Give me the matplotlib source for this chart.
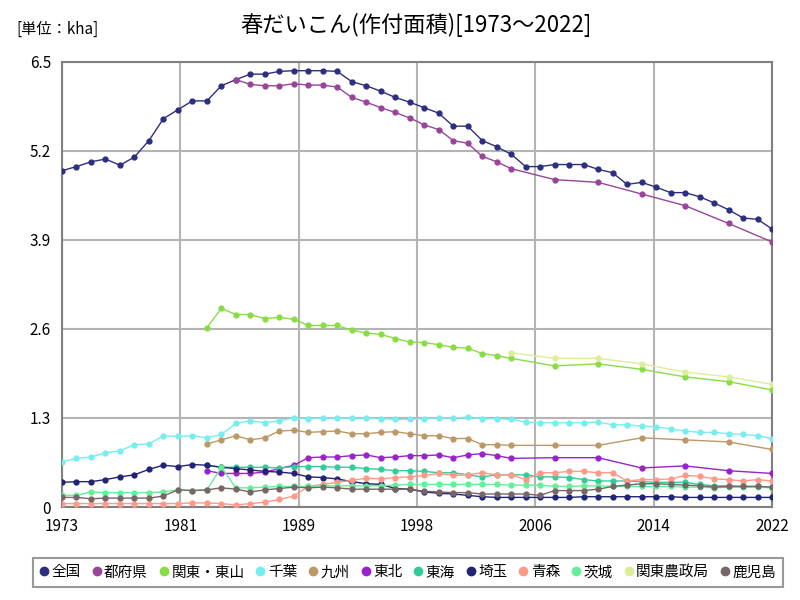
import numpy as np
import matplotlib
matplotlib.use("Agg")
import matplotlib.pyplot as plt
from matplotlib.lines import Line2D

plt.rcParams['font.family'] = ['Noto Sans CJK JP', 'DejaVu Sans']

N = None
years = list(range(1973, 2023))

# 作付面積 (kha), 1973-2022
zenkoku = [4.91, 4.97, 5.04, 5.08, 4.99, 5.11, 5.35, 5.67, 5.80, 5.93,
           5.93, 6.15, 6.24, 6.32, 6.32, 6.36, 6.37, 6.37, 6.37, 6.36,
           6.21, 6.15, 6.07, 5.98, 5.91, 5.83, 5.75, 5.56, 5.56, 5.35,
           5.26, 5.15, 4.97, 4.97, 5.00, 5.00, 5.00, 4.93, 4.88, 4.71,
           4.74, 4.67, 4.59, 4.59, 4.53, 4.44, 4.34, 4.22, 4.20, 4.06]
tofuken = [N, N, N, N, N, N, N, N, N, N,
           N, N, 6.24, 6.17, 6.15, 6.15, 6.18, 6.16, 6.16, 6.13,
           5.98, 5.91, 5.83, 5.76, 5.68, 5.58, 5.51, 5.35, 5.31, 5.12,
           5.04, 4.94, N, N, 4.78, N, N, 4.74, N, N,
           4.57, N, N, 4.40, N, N, 4.14, N, N, 3.87]
kanto_tosan = [N, N, N, N, N, N, N, N, N, N,
               2.62, 2.90, 2.81, 2.81, 2.75, 2.77, 2.74, 2.65, 2.65, 2.65,
               2.58, 2.54, 2.52, 2.46, 2.41, 2.40, 2.37, 2.33, 2.32, 2.24,
               2.21, 2.17, N, N, 2.06, N, N, 2.09, N, N,
               2.01, N, N, 1.90, N, N, 1.83, N, N, 1.71]
chiba = [0.66, 0.71, 0.73, 0.79, 0.82, 0.91, 0.92, 1.04, 1.03, 1.04,
         1.01, 1.06, 1.22, 1.26, 1.23, 1.26, 1.30, 1.29, 1.30, 1.30,
         1.30, 1.30, 1.29, 1.28, 1.28, 1.29, 1.30, 1.30, 1.31, 1.29,
         1.29, 1.28, 1.24, 1.23, 1.23, 1.23, 1.23, 1.24, 1.20, 1.20,
         1.18, 1.17, 1.14, 1.11, 1.09, 1.09, 1.07, 1.06, 1.04, 1.00]
kyushu = [N, N, N, N, N, N, N, N, N, N,
          0.92, 0.98, 1.04, 0.98, 1.01, 1.11, 1.12, 1.09, 1.10, 1.11,
          1.07, 1.07, 1.09, 1.10, 1.07, 1.04, 1.04, 1.00, 1.00, 0.91,
          0.91, 0.90, N, N, 0.90, N, N, 0.90, N, N,
          1.01, N, N, 0.98, N, N, 0.95, N, N, 0.84]
tohoku = [N, N, N, N, N, N, N, N, N, N,
          0.53, 0.49, 0.49, 0.49, 0.51, 0.56, 0.61, 0.72, 0.73, 0.73,
          0.75, 0.76, 0.72, 0.73, 0.75, 0.75, 0.76, 0.72, 0.76, 0.78,
          0.75, 0.71, N, N, 0.72, N, N, 0.72, N, N,
          0.57, N, N, 0.60, N, N, 0.53, N, N, 0.49]
tokai = [N, N, N, N, N, N, N, N, N, N,
         0.61, 0.58, 0.58, 0.58, 0.58, 0.57, 0.59, 0.59, 0.59, 0.58,
         0.58, 0.56, 0.55, 0.53, 0.53, 0.52, 0.50, 0.50, 0.47, 0.44,
         0.47, 0.47, 0.47, 0.44, 0.44, 0.43, 0.40, 0.38, 0.38, 0.38,
         0.37, 0.36, 0.36, 0.36, 0.33, 0.31, 0.31, 0.30, 0.30, 0.29]
saitama = [0.36, 0.37, 0.37, 0.40, 0.44, 0.47, 0.55, 0.61, 0.59, 0.62,
           0.61, 0.58, 0.56, 0.54, 0.52, 0.51, 0.49, 0.44, 0.43, 0.41,
           0.37, 0.34, 0.33, 0.27, 0.26, 0.22, 0.20, 0.19, 0.17, 0.15,
           0.14, 0.14, 0.14, 0.14, 0.14, 0.14, 0.15, 0.15, 0.15, 0.15,
           0.15, 0.15, 0.15, 0.14, 0.14, 0.14, 0.14, 0.14, 0.14, 0.14]
aomori = [0.05, 0.05, 0.05, 0.05, 0.05, 0.05, 0.05, 0.05, 0.05, 0.06,
          0.06, 0.05, 0.03, 0.05, 0.07, 0.11, 0.16, 0.30, 0.33, 0.36,
          0.39, 0.42, 0.41, 0.43, 0.44, 0.46, 0.49, 0.46, 0.47, 0.50,
          0.47, 0.47, 0.40, 0.50, 0.50, 0.52, 0.52, 0.50, 0.50, 0.38,
          0.40, 0.40, 0.41, 0.46, 0.45, 0.41, 0.40, 0.38, 0.40, 0.38]
ibaraki = [0.17, 0.17, 0.22, 0.21, 0.21, 0.21, 0.21, 0.22, 0.25, 0.24,
           0.25, 0.58, 0.28, 0.28, 0.29, 0.30, 0.30, 0.30, 0.31, 0.31,
           0.31, 0.31, 0.31, 0.32, 0.33, 0.33, 0.33, 0.33, 0.33, 0.33,
           0.33, 0.32, 0.32, 0.32, 0.30, 0.30, 0.31, 0.31, 0.30, 0.30,
           0.30, 0.30, 0.30, 0.29, 0.29, 0.28, 0.29, 0.29, 0.29, 0.28]
kanto_nosei = [N, N, N, N, N, N, N, N, N, N,
               N, N, N, N, N, N, N, N, N, N,
               N, N, N, N, N, N, N, N, N, N,
               N, 2.25, N, N, 2.17, N, N, 2.17, N, N,
               2.09, N, N, 1.97, N, N, 1.90, N, N, 1.79]
kagoshima = [0.14, 0.14, 0.12, 0.13, 0.13, 0.13, 0.13, 0.16, 0.25, 0.24,
             0.25, 0.28, 0.26, 0.22, 0.25, 0.27, 0.29, 0.28, 0.29, 0.28,
             0.26, 0.26, 0.26, 0.26, 0.26, 0.23, 0.22, 0.21, 0.21, 0.19,
             0.19, 0.19, 0.19, 0.17, 0.24, 0.24, 0.24, 0.26, 0.30, 0.32,
             0.34, 0.34, 0.33, 0.32, 0.31, 0.29, 0.30, 0.30, 0.30, 0.29]

names = ['全国', '都府県', '関東・東山', '千葉', '九州', '東北', '東海',
         '埼玉', '青森', '茨城', '関東農政局', '鹿児島']
series = [zenkoku, tofuken, kanto_tosan, chiba, kyushu, tohoku, tokai,
          saitama, aomori, ibaraki, kanto_nosei, kagoshima]
colors = ['#2e2e80', '#994499', '#88dd44', '#77eeee', '#bb9966', '#9922cc',
          '#33cc99', '#222277', '#ff9988', '#66ee99', '#ddee99', '#776666']

fig = plt.figure(figsize=(8, 6), dpi=100)
ax = fig.add_axes([0.0775, 0.155, 0.8875, 0.742])

x = np.array(years)
for vals, c in zip(series, colors):
    y = np.array([np.nan if v is None else v for v in vals], dtype=float)
    ok = ~np.isnan(y)
    ax.plot(x[ok], y[ok], color=c, lw=1.0, marker='o', ms=3.5, mec=c, zorder=3)

ax.set_xlim(1973, 2022)
ax.set_ylim(0, 6.5)
xt = np.linspace(1973, 2022, 7)
ax.set_xticks(xt)
ax.set_xticklabels([str(int(round(v))) for v in xt], fontsize=11)
yt = [0, 1.3, 2.6, 3.9, 5.2, 6.5]
ax.set_yticks(yt)
ax.set_yticklabels(['0', '1.3', '2.6', '3.9', '5.2', '6.5'], fontsize=11)
ax.tick_params(axis='x', length=0, pad=8)
ax.tick_params(axis='y', length=0, pad=8)
ax.grid(True, color='#b4b4b4', lw=1.5, zorder=0)
ax.set_axisbelow(True)
for s in ax.spines.values():
    s.set_color('#808080')
    s.set_linewidth(1.5)

fig.text(0.52, 0.958, '春だいこん(作付面積)[1973～2022]', ha='center', va='center', fontsize=16)
fig.text(0.02, 0.952, '[単位：kha]', ha='left', va='center', fontsize=11)

handles = [Line2D([], [], ls='none', marker='o', ms=6, color=c) for c in colors]
leg = fig.legend(handles, names, loc='center', bbox_to_anchor=(0.51, 0.046), ncol=12,
                 fontsize=10.5, handlelength=0.6, handletextpad=0.2, columnspacing=0.8,
                 frameon=True, fancybox=False, borderpad=0.5)
leg.get_frame().set_edgecolor('#808080')
leg.get_frame().set_linewidth(1.5)

fig.savefig('out.png', dpi=100)
